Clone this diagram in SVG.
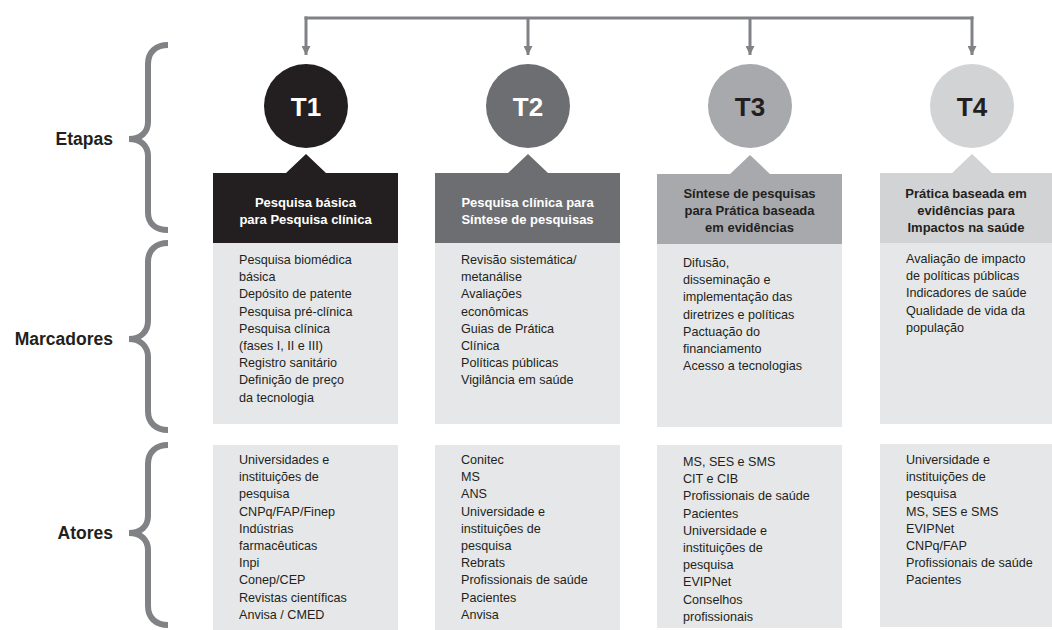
<svg xmlns="http://www.w3.org/2000/svg" width="1052" height="630" viewBox="0 0 1052 630">
<defs>
<marker id="arr" viewBox="0 0 10 10" refX="10" refY="5" markerWidth="9" markerHeight="9" markerUnits="userSpaceOnUse" orient="auto">
<path d="M0,0 L10,5 L0,10 Z" fill="#808285"/>
</marker>
</defs>
<style>
.conn{fill:none;stroke:#808285;stroke-width:3}
.brace{fill:none;stroke:#808285;stroke-width:6;stroke-linecap:butt}
.lbl{font-family:"Liberation Sans",Arial,sans-serif;font-weight:bold;font-size:17.5px;fill:#231f20;text-anchor:end}
.tt{font-family:"Liberation Sans",Arial,sans-serif;font-weight:bold;font-size:26px;text-anchor:middle}
.hd{font-family:"Liberation Sans",Arial,sans-serif;font-weight:bold;font-size:13px;text-anchor:middle}
.bd{font-family:"Liberation Sans",Arial,sans-serif;font-size:12.6px;fill:#231f20}
.body{fill:#e6e7e8}
</style>
<rect width="1052" height="630" fill="#ffffff"/>

<g id="braces">
<path class="brace" d="M168,45 C156,45 148,52 148,64 L148,122 C148,132 141,139 129,139 C141,139 148,146 148,156 L148,212 C148,224 156,230 168,230"/>
<path class="brace" d="M168,243 C156,243 148,250 148,262 L148,321 C148,331 141,339 129,339 C141,339 148,347 148,357 L148,411 C148,423 156,430 168,430"/>
<path class="brace" d="M168,445 C156,445 148,452 148,464 L148,516 C148,526 141,533 129,533 C141,533 148,540 148,550 L148,606 C148,618 156,625 168,625"/>
</g>
<g id="labels">
<text class="lbl" x="113" y="145">Etapas</text>
<text class="lbl" x="113" y="345">Marcadores</text>
<text class="lbl" x="113" y="539">Atores</text>
</g>

<g id="connectors">
<line class="conn" x1="304.5" y1="18" x2="973.5" y2="18"/>
<line class="conn" x1="306" y1="16.5" x2="306" y2="55" marker-end="url(#arr)"/>
<line class="conn" x1="528" y1="18" x2="528" y2="55" marker-end="url(#arr)"/>
<line class="conn" x1="750" y1="18" x2="750" y2="55" marker-end="url(#arr)"/>
<line class="conn" x1="972" y1="16.5" x2="972" y2="55" marker-end="url(#arr)"/>
</g>

<g id="T1">
<circle cx="306" cy="106" r="42" fill="#231f20"/>
<text class="tt" x="306" y="116" fill="#ffffff">T1</text>
<path d="M213,173 L286,173 L306,154 L326,173 L398,173 L398,243 L213,243 Z" fill="#231f20"/>
<text class="hd" fill="#ffffff"><tspan x="305.5" y="207">Pesquisa básica</tspan><tspan x="305.5" y="224">para Pesquisa clínica</tspan></text>
<rect class="body" x="213" y="243" width="185" height="181"/>
<text class="bd"><tspan x="239" y="264">Pesquisa biomédica</tspan><tspan x="239" y="281.2">básica</tspan><tspan x="239" y="298.4">Depósito de patente</tspan><tspan x="239" y="315.6">Pesquisa pré-clínica</tspan><tspan x="239" y="332.8">Pesquisa clínica</tspan><tspan x="239" y="350">(fases I, II e III)</tspan><tspan x="239" y="367.2">Registro sanitário</tspan><tspan x="239" y="384.4">Definição de preço</tspan><tspan x="239" y="401.6">da tecnologia</tspan></text>
<rect class="body" x="213" y="445" width="185" height="185"/>
<text class="bd"><tspan x="239" y="464">Universidades e</tspan><tspan x="239" y="481.2">instituições de</tspan><tspan x="239" y="498.4">pesquisa</tspan><tspan x="239" y="515.6">CNPq/FAP/Finep</tspan><tspan x="239" y="532.8">Indústrias</tspan><tspan x="239" y="550">farmacêuticas</tspan><tspan x="239" y="567.2">Inpi</tspan><tspan x="239" y="584.4">Conep/CEP</tspan><tspan x="239" y="601.6">Revistas científicas</tspan><tspan x="239" y="618.8">Anvisa / CMED</tspan></text>
</g>

<g id="T2">
<circle cx="528" cy="106" r="42" fill="#6d6e71"/>
<text class="tt" x="528" y="116" fill="#ffffff">T2</text>
<path d="M435,173 L508,173 L528,154 L548,173 L620,173 L620,243 L435,243 Z" fill="#6d6e71"/>
<text class="hd" fill="#ffffff"><tspan x="527.5" y="207">Pesquisa clínica para</tspan><tspan x="527.5" y="224">Síntese de pesquisas</tspan></text>
<rect class="body" x="435" y="243" width="185" height="181"/>
<text class="bd"><tspan x="461" y="264">Revisão sistemática/</tspan><tspan x="461" y="281.2">metanálise</tspan><tspan x="461" y="298.4">Avaliações</tspan><tspan x="461" y="315.6">econômicas</tspan><tspan x="461" y="332.8">Guias de Prática</tspan><tspan x="461" y="350">Clínica</tspan><tspan x="461" y="367.2">Políticas públicas</tspan><tspan x="461" y="384.4">Vigilância em saúde</tspan></text>
<rect class="body" x="435" y="445" width="185" height="185"/>
<text class="bd"><tspan x="461" y="464">Conitec</tspan><tspan x="461" y="481.2">MS</tspan><tspan x="461" y="498.4">ANS</tspan><tspan x="461" y="515.6">Universidade e</tspan><tspan x="461" y="532.8">instituições de</tspan><tspan x="461" y="550">pesquisa</tspan><tspan x="461" y="567.2">Rebrats</tspan><tspan x="461" y="584.4">Profissionais de saúde</tspan><tspan x="461" y="601.6">Pacientes</tspan><tspan x="461" y="618.8">Anvisa</tspan></text>
</g>

<g id="T3">
<circle cx="750" cy="106" r="42" fill="#a7a9ac"/>
<text class="tt" x="750" y="116" fill="#231f20">T3</text>
<path d="M657,174 L730,174 L750,155 L770,174 L842,174 L842,244 L657,244 Z" fill="#a7a9ac"/>
<text class="hd" fill="#231f20"><tspan x="749.5" y="198">Síntese de pesquisas</tspan><tspan x="749.5" y="215">para Prática baseada</tspan><tspan x="749.5" y="232">em evidências</tspan></text>
<rect class="body" x="657" y="244" width="185" height="183"/>
<text class="bd"><tspan x="683" y="267">Difusão,</tspan><tspan x="683" y="284.2">disseminação e</tspan><tspan x="683" y="301.4">implementação das</tspan><tspan x="683" y="318.6">diretrizes e políticas</tspan><tspan x="683" y="335.8">Pactuação do</tspan><tspan x="683" y="353">financiamento</tspan><tspan x="683" y="370.2">Acesso a tecnologias</tspan></text>
<rect class="body" x="657" y="445" width="185" height="183"/>
<text class="bd"><tspan x="683" y="466">MS, SES e SMS</tspan><tspan x="683" y="483.2">CIT e CIB</tspan><tspan x="683" y="500.4">Profissionais de saúde</tspan><tspan x="683" y="517.6">Pacientes</tspan><tspan x="683" y="534.8">Universidade e</tspan><tspan x="683" y="552">instituições de</tspan><tspan x="683" y="569.2">pesquisa</tspan><tspan x="683" y="586.4">EVIPNet</tspan><tspan x="683" y="603.6">Conselhos</tspan><tspan x="683" y="620.8">profissionais</tspan></text>
</g>

<g id="T4">
<circle cx="972" cy="106" r="42" fill="#d1d3d4"/>
<text class="tt" x="972" y="116" fill="#231f20">T4</text>
<path d="M880,173 L952,173 L972,154 L992,173 L1065,173 L1065,243 L880,243 Z" fill="#d1d3d4"/>
<text class="hd" fill="#231f20"><tspan x="966" y="198">Prática baseada em</tspan><tspan x="966" y="215">evidências para</tspan><tspan x="966" y="232">Impactos na saúde</tspan></text>
<rect class="body" x="880" y="243" width="185" height="181"/>
<text class="bd"><tspan x="906" y="263">Avaliação de impacto</tspan><tspan x="906" y="280.2">de políticas públicas</tspan><tspan x="906" y="297.4">Indicadores de saúde</tspan><tspan x="906" y="314.6">Qualidade de vida da</tspan><tspan x="906" y="331.8">população</tspan></text>
<rect class="body" x="880" y="444" width="185" height="183"/>
<text class="bd"><tspan x="906" y="464">Universidade e</tspan><tspan x="906" y="481.2">instituições de</tspan><tspan x="906" y="498.4">pesquisa</tspan><tspan x="906" y="515.6">MS, SES e SMS</tspan><tspan x="906" y="532.8">EVIPNet</tspan><tspan x="906" y="550">CNPq/FAP</tspan><tspan x="906" y="567.2">Profissionais de saúde</tspan><tspan x="906" y="584.4">Pacientes</tspan></text>
</g>
</svg>
